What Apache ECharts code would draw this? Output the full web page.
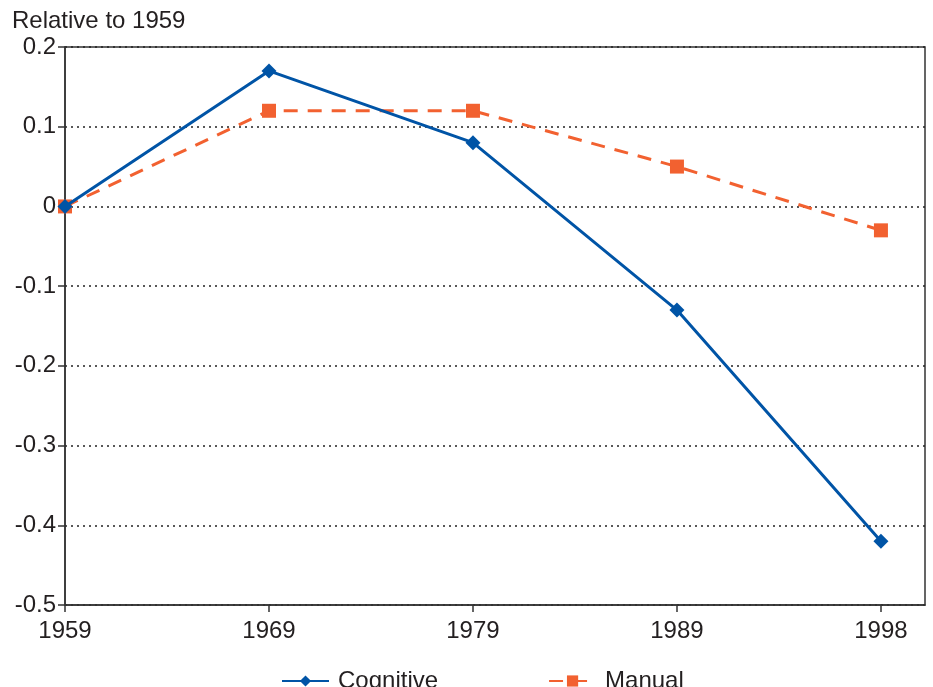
<!DOCTYPE html>
<html>
<head>
<meta charset="utf-8">
<script src="https://cdn.jsdelivr.net/npm/echarts@6/dist/echarts.min.js"></script>
<style>
  html, body { margin: 0; padding: 0; background: #fff; }
  #chart { width: 933px; height: 687px; }
</style>
</head>
<body>
<div id="chart"></div>
<script>
// data
var years = ["1959", "1969", "1979", "1989", "1998"];
var cognitive = [0, 0.17, 0.08, -0.13, -0.42];
var manual = [0, 0.12, 0.12, 0.05, -0.03];
var yTicks = [-0.5, -0.4, -0.3, -0.2, -0.1, 0, 0.1, 0.2];

var textColor = "#231f20";
var font = "Liberation Sans, Arial, sans-serif";

// years sit at equal steps, the plot runs a little past the last one
function pairs(vals) {
  return vals.map(function (v, i) { return [i, v]; });
}

var chart = echarts.init(document.getElementById("chart"));
var option = {
  animation: false,
  backgroundColor: "#fff",
  textStyle: { fontFamily: font },
  title: {
    text: "Relative to 1959",
    left: 12,
    top: 9,
    padding: 0,
    textStyle: { fontFamily: font, fontSize: 24, fontWeight: "normal", color: textColor }
  },
  grid: {
    left: 65,
    top: 47,
    right: 8,
    bottom: 82,
    show: true,
    borderColor: "#333",
    borderWidth: 1.5,
    containLabel: false
  },
  legend: {
    top: 669,
    left: 281,
    padding: 0,
    itemGap: 110,
    itemWidth: 47,
    itemHeight: 14,
    textStyle: { fontFamily: font, fontSize: 24, color: textColor, padding: [0, 0, 0, 4] },
    data: ["Cognitive", "Manual"]
  },
  xAxis: {
    type: "value",
    min: 0,
    max: 4.216,
    interval: 1,
    axisLine: { onZero: false, lineStyle: { color: "#333", width: 1.5 } },
    axisTick: { show: true, length: 7, customValues: [0, 1, 2, 3, 4], lineStyle: { color: "#333", width: 1.5 } },
    axisLabel: {
      customValues: [0, 1, 2, 3, 4],
      formatter: function (v) { return years[Math.round(v)] || ""; },
      fontFamily: font, fontSize: 24, color: textColor, margin: 14
    },
    splitLine: { show: false }
  },
  yAxis: {
    type: "value",
    min: yTicks[0],
    max: yTicks[yTicks.length - 1],
    interval: 0.1,
    axisLine: { show: true, onZero: false, lineStyle: { color: "#333", width: 1.5 } },
    axisTick: { show: true, length: 7, lineStyle: { color: "#333", width: 1.5 } },
    axisLabel: {
      formatter: function (v) { return String(Math.round(v * 10) / 10); },
      fontFamily: font, fontSize: 24, color: textColor, margin: 9
    },
    splitLine: { show: true, lineStyle: { color: "#222", width: 1.5, type: [2, 4] } }
  },
  series: [
    {
      name: "Cognitive",
      type: "line",
      data: pairs(cognitive),
      symbol: "diamond",
      symbolSize: 15,
      lineStyle: { color: "#0054a6", width: 3 },
      itemStyle: { color: "#0054a6" },
      z: 3
    },
    {
      name: "Manual",
      type: "line",
      data: pairs(manual),
      symbol: "rect",
      symbolSize: 14,
      lineStyle: { color: "#f26130", width: 3, type: [14, 10] },
      itemStyle: { color: "#f26130" },
      z: 2
    }
  ]
};
chart.setOption(option);
</script>
</body>
</html>
